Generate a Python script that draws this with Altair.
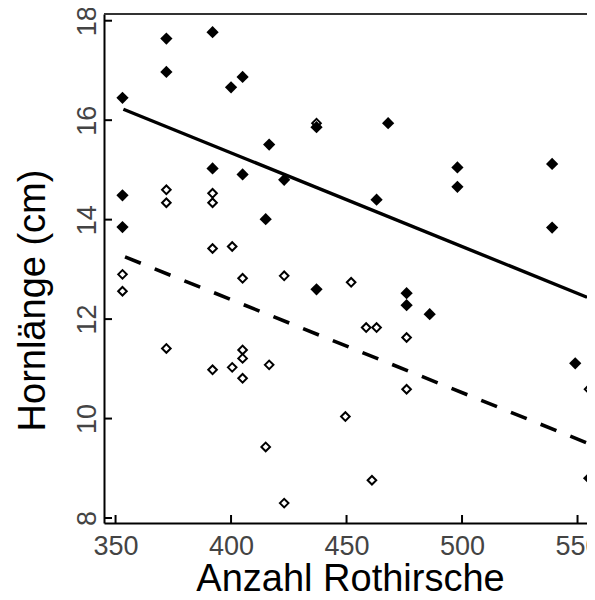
import altair as alt
import pandas as pd

# Filled diamonds (one group)
filled_x = [353, 353, 353, 372, 372, 392, 392, 400, 405, 405, 415, 416.5, 423,
            437, 437, 463, 468, 476, 476, 486, 498, 498, 539, 539, 549, 555]
filled_y = [16.45, 14.49, 13.85, 17.64, 16.97, 17.77, 15.03, 16.66, 16.87, 14.91,
            14.01, 15.51, 14.8, 15.86, 12.6, 14.4, 15.94, 12.52, 12.28, 12.1,
            15.05, 14.66, 15.12, 13.84, 11.11, 8.8]

# Open diamonds (other group)
open_x = [353, 353, 372, 372, 372, 392, 392, 392, 392, 400.5, 400.5, 405, 405, 405,
          405, 416.5, 415, 423, 423, 437, 449.5, 452, 458.5, 463, 461, 476, 476, 555]
open_y = [12.9, 12.56, 14.6, 14.34, 11.41, 14.53, 14.34, 13.42, 10.98, 13.46, 11.03,
          12.82, 11.38, 11.21, 10.81, 11.08, 9.43, 12.87, 8.3, 15.94, 10.04, 12.74,
          11.83, 11.83, 8.76, 11.63, 10.59, 10.59]

# Regression lines (end points)
solid_x = [353.4, 554.1]
solid_y = [16.22, 12.44]
dashed_x = [354.1, 554.1]
dashed_y = [13.25, 9.51]

x_ticks = [350, 400, 450, 500, 550]
y_ticks = [8, 10, 12, 14, 16, 18]

W, H = 483, 509
FONT = "Liberation Sans"

xs = alt.Scale(domain=[345.0, 554.1], nice=False, zero=False)
ys = alt.Scale(domain=[7.90, 18.135], nice=False, zero=False)

x_axis = alt.Axis(
    values=x_ticks, title="Anzahl Rothirsche", ticks=False, grid=False,
    labelFont=FONT, labelFontSize=27, labelColor="#444", labelPadding=10,
    labelFlush=False, labelOverlap=False,
    domainColor="black", domainWidth=2,
    titleFont=FONT, titleFontSize=38, titleFontWeight="normal", titleColor="black",
    titleX=246, titleY=67, titleAlign="center", titleBaseline="alphabetic",
)
y_axis = alt.Axis(
    values=y_ticks, title="Hornlänge (cm)", ticks=False, grid=False,
    labelFont=FONT, labelFontSize=27, labelColor="#444", labelPadding=9,
    labelAngle=270, labelAlign="center", labelBaseline="alphabetic",
    labelFlush=False, labelOverlap=False,
    domainColor="black", domainWidth=2,
    titleFont=FONT, titleFontSize=38, titleFontWeight="normal", titleColor="black",
    titleAngle=270, titleX=-60, titleY=286, titleAlign="center",
    titleBaseline="alphabetic",
)

open_df = pd.DataFrame({"x": open_x, "y": open_y})
filled_df = pd.DataFrame({"x": filled_x, "y": filled_y})
solid_df = pd.DataFrame({"x": solid_x, "y": solid_y})
dashed_df = pd.DataFrame({"x": dashed_x, "y": dashed_y})
xt_df = pd.DataFrame({"x": x_ticks})
yt_df = pd.DataFrame({"y": y_ticks})

X = alt.X("x:Q", scale=xs, axis=x_axis)
Y = alt.Y("y:Q", scale=ys, axis=y_axis)

open_pts = alt.Chart(open_df).mark_point(
    shape="diamond", size=74, fill="white", stroke="black", strokeWidth=2,
    opacity=1, fillOpacity=1,
).encode(x=X, y=Y)

filled_pts = alt.Chart(filled_df).mark_point(
    shape="diamond", size=150, filled=True, color="black", opacity=1,
).encode(x=X, y=Y)

solid = alt.Chart(solid_df).mark_line(color="black", strokeWidth=3.4).encode(x=X, y=Y)

dashed = alt.Chart(dashed_df).mark_line(
    color="black", strokeWidth=3.6, strokeDash=[17, 15]
).encode(x=X, y=Y)

xticks = alt.Chart(xt_df).mark_rule(color="black", strokeWidth=2).encode(
    x=X, y=alt.value(H - 8), y2=alt.value(H),
)

yticks = alt.Chart(yt_df).mark_rule(color="black", strokeWidth=2).encode(
    y=Y, x=alt.value(0), x2=alt.value(8),
)

top_border = alt.Chart(xt_df).mark_rule(color="#333", strokeWidth=2).encode(
    x=alt.value(0), x2=alt.value(W), y=alt.value(0),
)

chart = alt.layer(
    open_pts, filled_pts, solid, dashed, xticks, yticks, top_border
).properties(
    width=W, height=H,
    autosize=alt.AutoSizeParams(type="none"),
    padding={"left": 96, "top": 6, "right": 0, "bottom": 68},
    background="white",
).configure_view(stroke=None)

chart.save("out.html", embed_options={"renderer": "svg", "actions": False})
